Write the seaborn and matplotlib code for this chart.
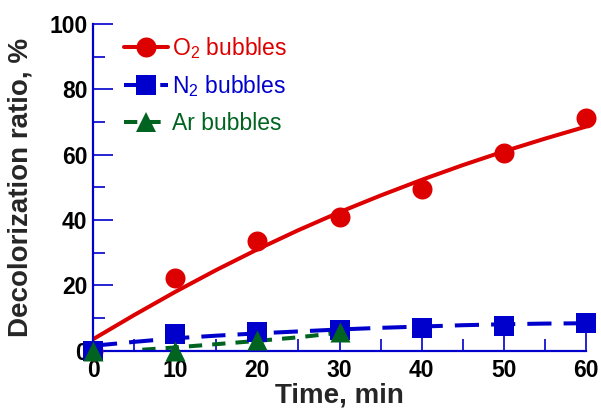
import matplotlib
matplotlib.use("Agg")
import matplotlib.pyplot as plt
from matplotlib.lines import Line2D
from matplotlib.ticker import MultipleLocator
import seaborn as sns

# ---- data ----
time = [0, 10, 20, 30, 40, 50, 60]
o2_points = [0, 22.3, 33.7, 40.9, 49.6, 60.4, 71.1]
n2_points = [0, 5.1, 5.6, 6.3, 6.9, 7.7, 8.6]
ar_time = [0, 10, 20, 30]
ar_points = [0, 0, 3.2, 5.6]

fit_time = [0, 5, 10, 15, 20, 25, 30, 35, 40, 45, 50, 55, 60]
o2_fit = [3.5, 10.9, 18.0, 24.7, 31.0, 36.9, 42.4, 47.5, 52.3, 56.8, 61.0, 64.9, 68.6]
n2_fit = [1.5, 2.7, 3.8, 4.6, 5.3, 5.9, 6.5, 7.0, 7.4, 7.8, 8.1, 8.3, 8.4]
ar_fit_time = [6, 10, 15, 20, 25, 30]
ar_fit = [0.3, 1.0, 2.0, 3.0, 4.1, 5.5]

labels = ["O$_2$ bubbles", "N$_2$ bubbles", "Ar bubbles"]
x_label = "Time, min"
y_label = "Decolorization ratio, %"

RED = "#DD0000"
BLUE = "#0000CC"
GREEN = "#006420"

sns.set_theme(style="ticks")
plt.rcParams["font.family"] = ["Liberation Sans", "DejaVu Sans"]
plt.rcParams["mathtext.fontset"] = "custom"
plt.rcParams["mathtext.rm"] = "Liberation Sans"
plt.rcParams["mathtext.default"] = "regular"

fig = plt.figure(figsize=(6.01, 4.09), dpi=100)
ax = fig.add_axes([93 / 601, 1 - 350.7 / 409, (586 - 93) / 601, (350.7 - 24) / 409])

lw = 2.9
ms = 14.4
blue_ls = (0, (6, 3))
green_ls = (0, (3.3, 2.5))

sns.lineplot(x=fit_time, y=o2_fit, color=RED, linewidth=lw, ax=ax, zorder=2)
sns.lineplot(x=fit_time, y=n2_fit, color=BLUE, linewidth=lw, linestyle=blue_ls, ax=ax, zorder=2)
sns.lineplot(x=ar_fit_time, y=ar_fit, color=GREEN, linewidth=lw, linestyle=green_ls, ax=ax, zorder=2)

sns.scatterplot(x=time, y=o2_points, color=RED, marker="o", s=ms ** 2, linewidth=0,
                ax=ax, zorder=3, clip_on=False)
sns.scatterplot(x=time, y=n2_points, color=BLUE, marker="s", s=ms ** 2, linewidth=0,
                ax=ax, zorder=4, clip_on=False)
sns.scatterplot(x=ar_time, y=ar_points, color=GREEN, marker="^", s=ms ** 2, linewidth=0,
                ax=ax, zorder=5, clip_on=False)

ax.set_xlim(0, 60)
ax.set_ylim(0, 100)
ax.xaxis.set_major_locator(MultipleLocator(10))
ax.xaxis.set_minor_locator(MultipleLocator(5))
ax.yaxis.set_major_locator(MultipleLocator(20))
ax.yaxis.set_minor_locator(MultipleLocator(10))

for side in ["top", "right"]:
    ax.spines[side].set_visible(False)
for side in ["left", "bottom"]:
    ax.spines[side].set_color(BLUE)
    ax.spines[side].set_linewidth(1.6)

ax.tick_params(which="major", direction="in", length=14.4, width=1.2, color=BLUE,
               labelsize=16.5, labelcolor="black")
ax.tick_params(which="minor", direction="in", length=8.5, width=1.2, color=BLUE)
ax.tick_params(axis="y", which="major", pad=4)
ax.tick_params(axis="x", which="major", pad=6)
for lab in ax.get_xticklabels() + ax.get_yticklabels():
    lab.set_fontweight("bold")

ax.set_xlabel(x_label, fontsize=20, fontweight="bold", labelpad=0)
ax.set_ylabel(y_label, fontsize=20, fontweight="bold", labelpad=11)
ax.set_facecolor("white")
fig.patch.set_facecolor("white")

handles = [
    Line2D([], [], color=RED, linewidth=lw, marker="o", markersize=ms, markeredgewidth=0),
    Line2D([], [], color=BLUE, linewidth=lw, linestyle=blue_ls, marker="s", markersize=ms, markeredgewidth=0),
    Line2D([], [], color=GREEN, linewidth=lw, linestyle=green_ls, marker="^", markersize=ms, markeredgewidth=0),
]
leg = ax.legend(handles, labels, loc="upper left", bbox_to_anchor=(0.045, 0.995),
                frameon=False, fontsize=16.5, handlelength=1.9, handletextpad=0.2,
                labelspacing=0.55, borderaxespad=0)
for txt, c in zip(leg.get_texts(), [RED, BLUE, GREEN]):
    txt.set_color(c)

fig.savefig("out.png", dpi=100, facecolor="white")
